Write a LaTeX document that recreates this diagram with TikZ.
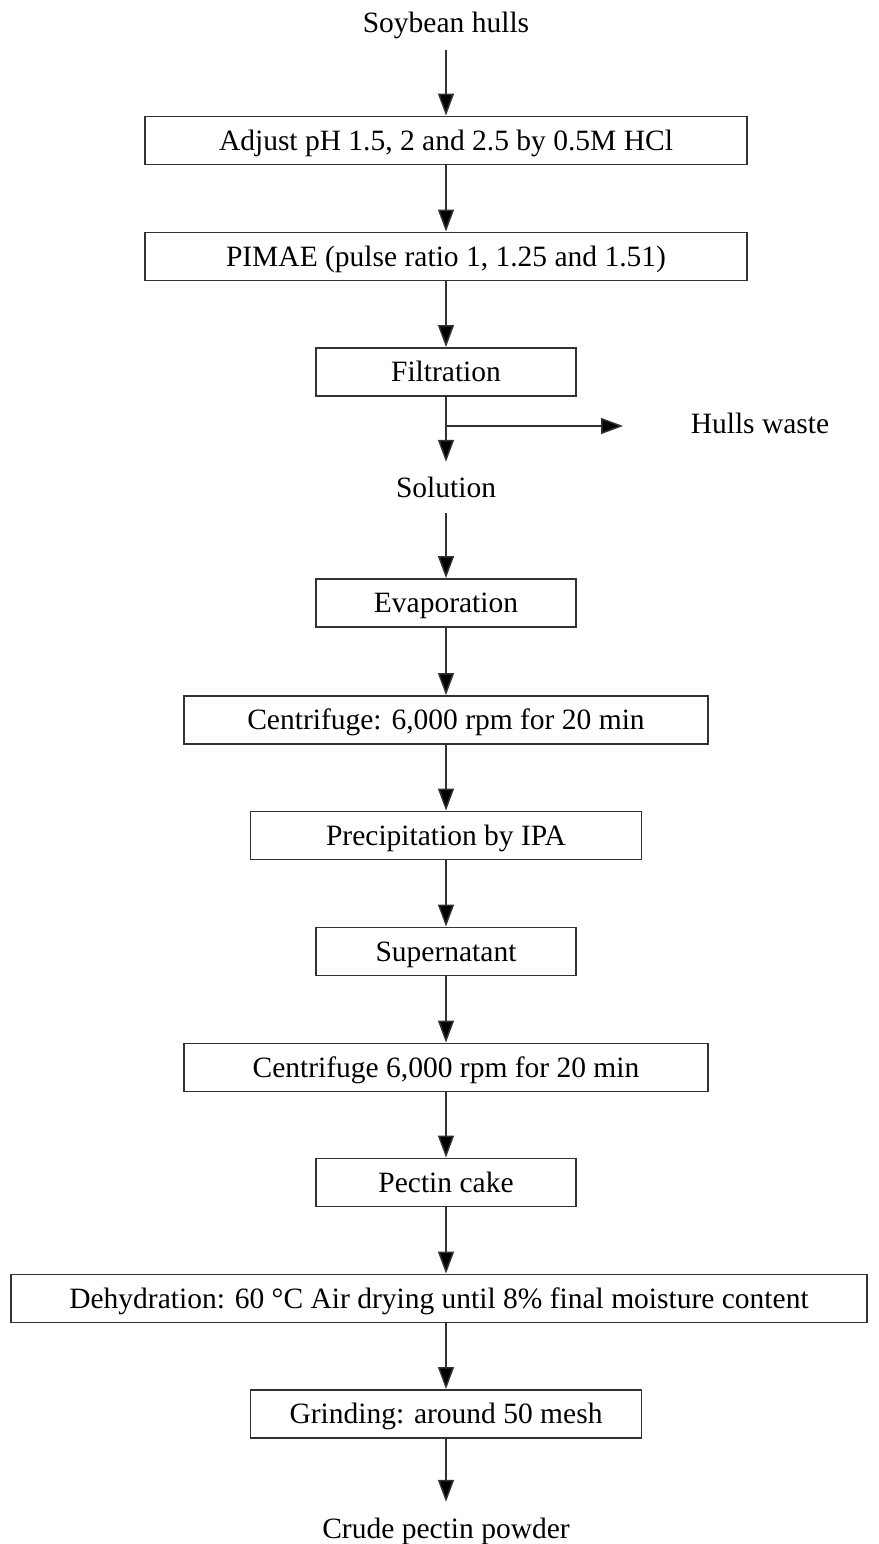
\documentclass[tikz,border=0pt]{standalone}
\usepackage{fontspec}
\setmainfont{Liberation Serif}
\usetikzlibrary{arrows.meta}
\definecolor{ln}{RGB}{50,50,50}
\begin{document}
\begin{tikzpicture}[x=1pt,y=1pt,
  font=\fontsize{29.5}{34}\selectfont,
  box/.style={draw=ln, line width=1.9pt, minimum height=48pt, inner sep=0pt,
              text height=25pt, text depth=5.5pt, fill=white},
  lbl/.style={inner sep=0pt, text height=20pt, text depth=6pt, anchor=base},
  arr/.style={draw=ln, line width=1.5pt, -{Triangle[length=22pt,width=16pt,fill=black]}},
  ]
\useasboundingbox (0,0) rectangle (878,-1544);

\node[lbl] (soy) at (446,-33) {Soybean hulls};
\node[box, minimum width=602pt] (b1) at (446,-140.5) {Adjust pH 1.5, 2 and 2.5 by 0.5M HCl};
\node[box, minimum width=602pt] (b2) at (446,-256.5) {PIMAE (pulse ratio 1, 1.25 and 1.51)};
\node[box, minimum width=260pt] (filt) at (446,-372) {Filtration};
\coordinate (br) at (446,-426);
\coordinate (hwend) at (623,-426);
\node[lbl] (hw) at (760,-433) {Hulls waste};
\node[lbl] (sol) at (446,-497) {Solution};
\node[box, minimum width=260pt] (evap) at (446,-603) {Evaporation};
\node[box, minimum width=524pt] (c1) at (446,-720) {Centrifuge: 6,000 rpm for 20 min};
\node[box, minimum width=391pt] (prec) at (446,-835.5) {Precipitation by IPA};
\node[box, minimum width=260pt] (sup) at (446,-951.5) {Supernatant};
\node[box, minimum width=524pt] (c2) at (446,-1067.5) {Centrifuge 6,000 rpm for 20 min};
\node[box, minimum width=260pt] (cake) at (446,-1182.5) {Pectin cake};
\node[box, minimum width=856pt] (dehy) at (439,-1298.5) {Dehydration: 60 °C Air drying until 8\% final moisture content};
\node[box, minimum width=391pt] (grind) at (446,-1414) {Grinding: around 50 mesh};
\node[lbl] (crude) at (446,-1538) {Crude pectin powder};

\draw[arr, shorten <=11pt] (soy.south) -- (b1.north);
\draw[arr] (b1) -- (b2);
\draw[arr] (b2) -- (filt);
\draw[arr, shorten >=15pt] (filt.south) -- (sol.north);
\draw[arr] (br) -- (hwend);
\draw[arr, shorten <=10pt] (sol.south) -- (evap.north);
\draw[arr] (evap) -- (c1);
\draw[arr] (c1) -- (prec);
\draw[arr] (prec) -- (sup);
\draw[arr] (sup) -- (c2);
\draw[arr] (c2) -- (cake);
\draw[arr] (cake.south) -- (cake.south |- dehy.north);
\draw[arr] (grind.north |- dehy.south) -- (grind.north);
\draw[arr, shorten >=16pt] (grind.south) -- (crude.north);
\end{tikzpicture}
\end{document}
